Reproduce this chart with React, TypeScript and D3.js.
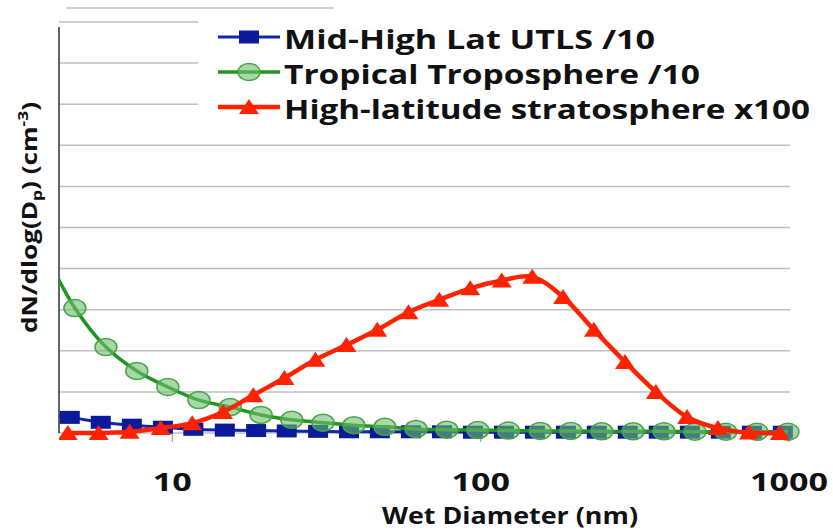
import React from "react";
import * as d3 from "d3";

// wet diameter bins (nm) for each series
const blueDiam = [3.69, 4.65, 5.86, 7.39, 9.32, 11.7, 14.8, 18.7, 23.5, 29.7, 37.4, 47.1, 59.4, 74.9, 94.4, 119, 150, 189, 238, 300, 378, 477, 601, 758, 955];
const greenDiam = [3.83, 4.83, 6.09, 7.67, 9.67, 12.2, 15.4, 19.4, 24.4, 30.8, 38.8, 48.9, 61.7, 77.7, 97.9, 123, 156, 196, 247, 312, 393, 495, 624, 787, 992];
const redDiam = [4.58, 5.77, 7.27, 9.17, 11.6, 14.6, 18.3, 23.1, 29.1, 36.7, 46.2, 58.3, 73.4, 92.5, 117, 147, 185, 233, 294, 370, 467, 588, 741, 934];

// dN/dlog(Dp), in gridline units
const blueVals = [0.46, 0.38, 0.26, 0.19, 0.14, 0.09, 0.07, 0.06, 0.05, 0.04, 0.03, 0.03, 0.03, 0.03, 0.02, 0.02, 0.02, 0.02, 0.02, 0.02, 0.02, 0.02, 0.02, 0.02, 0.02];
const greenVals = [4.45, 3.04, 2.09, 1.51, 1.12, 0.8, 0.63, 0.44, 0.32, 0.25, 0.19, 0.15, 0.1, 0.08, 0.07, 0.06, 0.05, 0.05, 0.04, 0.04, 0.04, 0.03, 0.03, 0.03, 0.03];
const redVals = [0, 0, 0.03, 0.12, 0.24, 0.51, 0.92, 1.34, 1.78, 2.14, 2.51, 2.94, 3.24, 3.52, 3.71, 3.8, 3.31, 2.51, 1.73, 1, 0.39, 0.12, 0.01, 0];

const legendNames = ["Mid-High Lat UTLS /10", "Tropical Troposphere /10", "High-latitude stratosphere x100"];
const xTicks = [10, 100, 1000];
const yTicks = d3.range(0, 11);

const W = 833, H = 532;
const FONT = "'Open Sans', 'DejaVu Sans', sans-serif";

const BLUE = "#1426a8", BLUE_M = "#0a1a9a";
const GREEN = "#1f941f", GREEN_M = "#46a446";
const RED = "#ff2200";

function Marker({ kind, x, y }: { kind: number; x: number; y: number }) {
  if (kind === 0) return <rect x={x - 10} y={y - 6.5} width={20} height={13} fill={BLUE_M} />;
  if (kind === 1)
    return <ellipse cx={x} cy={y} rx={11} ry={8.5} fill="rgba(110,190,110,0.6)" stroke={GREEN_M} strokeWidth={1.5} />;
  return <path d={`M${x - 10},${y + 7}L${x},${y - 8}L${x + 10},${y + 7}Z`} fill={RED} />;
}

export default function App() {
  const x = d3.scaleLog().domain([4.29, 1000]).range([59, 789]);
  const y = d3.scaleLinear().domain([0, 10]).range([433, 22]);

  const series = [
    { d: blueDiam, v: blueVals, color: BLUE, width: 3 },
    { d: greenDiam, v: greenVals, color: GREEN, width: 3.5 },
    { d: redDiam, v: redVals, color: RED, width: 4.5 },
  ];

  const line = d3
    .line<[number, number]>()
    .x((p) => x(p[0]))
    .y((p) => y(p[1]))
    .curve(d3.curveCatmullRom.alpha(0.5));

  const digitW = 19.5;

  return (
    <svg width={W} height={H} style={{ position: "absolute", left: 0, top: 0, background: "#fff" }} fontFamily={FONT}>
      <defs>
        <clipPath id="plot">
          <rect x={59} y={0} width={W - 59} height={460} />
        </clipPath>
      </defs>

      {/* stray line above the plot */}
      <line x1={66} x2={334} y1={8} y2={8} stroke="#c4c4c4" strokeWidth={1.5} />

      {/* gridlines */}
      {yTicks.map((t) => (
        <line key={t} x1={59} x2={790} y1={y(t)} y2={y(t)} stroke="#c0c0c0" strokeWidth={1.5} />
      ))}

      {/* x ticks */}
      {xTicks.map((t) => (
        <line key={t} x1={x(t)} x2={x(t)} y1={y(0)} y2={y(0) + 9} stroke="#a0a0a0" strokeWidth={1.2} />
      ))}

      {/* y axis */}
      <line x1={59} x2={59} y1={27} y2={y(0)} stroke="#333" strokeWidth={1.5} />

      <g clipPath="url(#plot)">
        {series.map((s, i) => (
          <g key={i}>
            <path
              d={line(s.d.map((dd, j) => [dd, s.v[j]] as [number, number])) || ""}
              fill="none"
              stroke={s.color}
              strokeWidth={s.width}
            />
            {s.d.map((dd, j) => (
              <Marker key={j} kind={i} x={x(dd)} y={y(s.v[j])} />
            ))}
          </g>
        ))}
      </g>

      {/* x tick labels */}
      {xTicks.map((t) => {
        const len = String(t).length * digitW;
        return (
          <text key={t} x={x(t) - len / 2} y={491} fontSize={25} fontWeight={700} fill="#111" textLength={len} lengthAdjust="spacingAndGlyphs">
            {t}
          </text>
        );
      })}

      {/* axis titles */}
      <text x={382} y={524} fontSize={24} fontWeight={700} fill="#111" textLength={256} lengthAdjust="spacingAndGlyphs">
        Wet Diameter (nm)
      </text>
      <text transform="rotate(-90)" x={-333} y={37} fontSize={21} fontWeight={700} fill="#111" textLength={231} lengthAdjust="spacingAndGlyphs">
        dN/dlog(D<tspan dy={5} fontSize={14}>p</tspan>
        <tspan dy={-5}>) (cm</tspan>
        <tspan dy={-9} fontSize={14}>-3</tspan>
        <tspan dy={9}>)</tspan>
      </text>

      {/* legend */}
      <rect x={198} y={14} width={W - 198} height={112} fill="#fff" />
      {legendNames.map((name, i) => {
        const cy = 37 + i * 35;
        const lens = [371, 416, 526];
        return (
          <g key={name}>
            <line x1={218} x2={280} y1={cy} y2={cy} stroke={series[i].color} strokeWidth={series[i].width} />
            <Marker kind={i} x={249} y={cy} />
            <text x={284} y={cy + 12} fontSize={27} fontWeight={700} fill="#111" textLength={lens[i]} lengthAdjust="spacingAndGlyphs">
              {name}
            </text>
          </g>
        );
      })}
    </svg>
  );
}
